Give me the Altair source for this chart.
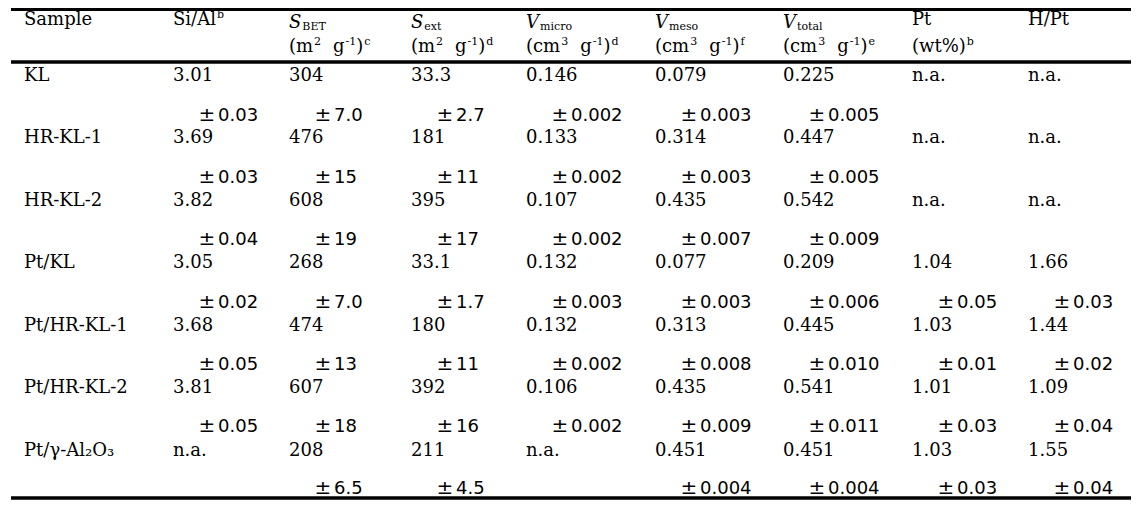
import altair as alt
import pandas as pd

samples = ["KL", "HR-KL-1", "HR-KL-2", "Pt/KL", "Pt/HR-KL-1", "Pt/HR-KL-2", "Pt/γ-Al₂O₃"]

si_al = ["3.01", "3.69", "3.82", "3.05", "3.68", "3.81", "n.a."]
si_al_err = ["±0.03", "±0.03", "±0.04", "±0.02", "±0.05", "±0.05", ""]
s_bet = ["304", "476", "608", "268", "474", "607", "208"]
s_bet_err = ["±7.0", "±15", "±19", "±7.0", "±13", "±18", "±6.5"]
s_ext = ["33.3", "181", "395", "33.1", "180", "392", "211"]
s_ext_err = ["±2.7", "±11", "±17", "±1.7", "±11", "±16", "±4.5"]
v_micro = ["0.146", "0.133", "0.107", "0.132", "0.132", "0.106", "n.a."]
v_micro_err = ["±0.002", "±0.002", "±0.002", "±0.003", "±0.002", "±0.002", ""]
v_meso = ["0.079", "0.314", "0.435", "0.077", "0.313", "0.435", "0.451"]
v_meso_err = ["±0.003", "±0.003", "±0.007", "±0.003", "±0.008", "±0.009", "±0.004"]
v_total = ["0.225", "0.447", "0.542", "0.209", "0.445", "0.541", "0.451"]
v_total_err = ["±0.005", "±0.005", "±0.009", "±0.006", "±0.010", "±0.011", "±0.004"]
pt = ["n.a.", "n.a.", "n.a.", "1.04", "1.03", "1.01", "1.03"]
pt_err = ["", "", "", "±0.05", "±0.01", "±0.03", "±0.03"]
h_pt = ["n.a.", "n.a.", "n.a.", "1.66", "1.44", "1.09", "1.55"]
h_pt_err = ["", "", "", "±0.03", "±0.02", "±0.04", "±0.04"]

value_columns = [si_al, s_bet, s_ext, v_micro, v_meso, v_total, pt, h_pt]
error_columns = [si_al_err, s_bet_err, s_ext_err, v_micro_err, v_meso_err,
                 v_total_err, pt_err, h_pt_err]

# header text pieces: (text, style); "sp" = horizontal gap
area_unit = [("(m", "r"), ("2", "sup"), ("", "sp"), ("g", "r"), ("-1", "sup"), (")", "r")]
vol_unit = [("(cm", "r"), ("3", "sup"), ("", "sp"), ("g", "r"), ("-1", "sup"), (")", "r")]
header_row1 = [
    [("Sample", "r")],
    [("Si/Al", "r"), ("b", "sup")],
    [("S", "i"), ("BET", "sub")],
    [("S", "i"), ("ext", "sub")],
    [("V", "i"), ("micro", "sub")],
    [("V", "i"), ("meso", "sub")],
    [("V", "i"), ("total", "sub")],
    [("Pt", "r")],
    [("H/Pt", "r")],
]
header_row2 = [
    [],
    [],
    area_unit + [("c", "sup")],
    area_unit + [("d", "sup")],
    vol_unit + [("d", "sup")],
    vol_unit + [("f", "sup")],
    vol_unit + [("e", "sup")],
    [("(wt%)", "r"), ("b", "sup")],
    [],
]

# ---------------- layout ----------------
W, H = 1123, 494
col_x = [16, 165, 281, 403, 518, 647, 775, 904, 1020]
err_indent = 25.5
pm_gap = 19.5
val_y0, val_pitch = 72.5, 62.5
err_y0, err_pitch = 113.0, 62.2
FS, FS_SMALL, FS_PM = 18, 11, 20

# approximate DejaVu Serif advance widths (em)
WID = {" ": .318, "(": .39, ")": .39, "-": .338, "/": .337, "%": .95,
       ".": .318, "a": .596, "b": .64, "c": .561, "d": .64, "e": .592, "f": .37,
       "g": .64, "i": .32, "l": .32, "m": .948, "n": .644, "o": .602, "p": .64,
       "r": .478, "s": .513, "t": .403, "w": .856, "x": .645, "A": .724, "B": .735,
       "E": .727, "H": .872, "P": .677, "S": .686, "T": .684, "V": .724}


def text_width(s, size):
    return sum(WID.get(ch, .636) for ch in s) * size


rows = []
hb1, hb_it, hb2 = 16.5, 19.5, 44.0
for r, line in enumerate([header_row1, header_row2]):
    for c, pieces in enumerate(line):
        x = col_x[c]
        if r == 0:
            mb = hb_it if pieces[0][1] == "i" else hb1
        else:
            mb = hb2
        for text, style in pieces:
            if style in ("r", "i"):
                rows.append(dict(x=x, y=mb, text=text, kind=style))
                x += text_width(text, FS) + (1 if style == "i" else 0)
            elif style == "sub":
                rows.append(dict(x=x, y=mb + 2.5, text=text, kind="small"))
                x += text_width(text, FS_SMALL)
            elif style == "sp":
                x += 12
            else:  # sup
                x += 1
                rows.append(dict(x=x, y=mb - 7, text=text, kind="small"))
                x += text_width(text, FS_SMALL)

for i, name in enumerate(samples):
    y = val_y0 + val_pitch * i
    rows.append(dict(x=col_x[0], y=y, text=name, kind="r"))
    for c, vals in enumerate(value_columns):
        rows.append(dict(x=col_x[c + 1], y=y, text=vals[i], kind="r"))
    ye = err_y0 + err_pitch * i
    for c, errs in enumerate(error_columns):
        if errs[i]:
            x0 = col_x[c + 1] + err_indent
            rows.append(dict(x=x0, y=ye, text=errs[i][0], kind="pm"))
            rows.append(dict(x=x0 + pm_gap, y=ye, text=errs[i][1:], kind="err"))

cells = pd.DataFrame(rows)
rules = pd.DataFrame([
    dict(x=3, x2=W, y=1.5, w=3.0),
    dict(x=3, x2=W, y=54.0, w=3.5),
    dict(x=3, x2=W, y=490.0, w=3.5),
])

xs = alt.Scale(domain=[0, W], nice=False, zero=False)
ys = alt.Scale(domain=[0, H], nice=False, zero=False, reverse=True)

base = alt.Chart(cells)


def text_layer(kind, font, size, style="normal"):
    return base.transform_filter(alt.datum.kind == kind).mark_text(
        align="left", baseline="alphabetic", font=font, fontSize=size,
        fontStyle=style, color="#000000"
    ).encode(
        x=alt.X("x:Q", scale=xs, axis=None),
        y=alt.Y("y:Q", scale=ys, axis=None),
        text="text:N",
    )


layers = [
    text_layer("r", "DejaVu Serif", FS),
    text_layer("i", "DejaVu Serif", FS, "italic"),
    text_layer("small", "DejaVu Serif", FS_SMALL),
    text_layer("err", "DejaVu Sans", FS),
    text_layer("pm", "DejaVu Sans", FS_PM),
]

rule_layer = alt.Chart(rules).mark_rule(color="#000000").encode(
    x=alt.X("x:Q", scale=xs, axis=None),
    x2="x2:Q",
    y=alt.Y("y:Q", scale=ys, axis=None),
    strokeWidth=alt.StrokeWidth("w:Q", scale=None, legend=None),
)

chart = alt.layer(rule_layer, *layers).properties(
    width=W, height=H, padding=0, autosize=alt.AutoSizeParams(type="none"),
    background="white",
).configure_view(stroke=None)

chart.save("out.html", embed_options={"renderer": "svg", "actions": False})
